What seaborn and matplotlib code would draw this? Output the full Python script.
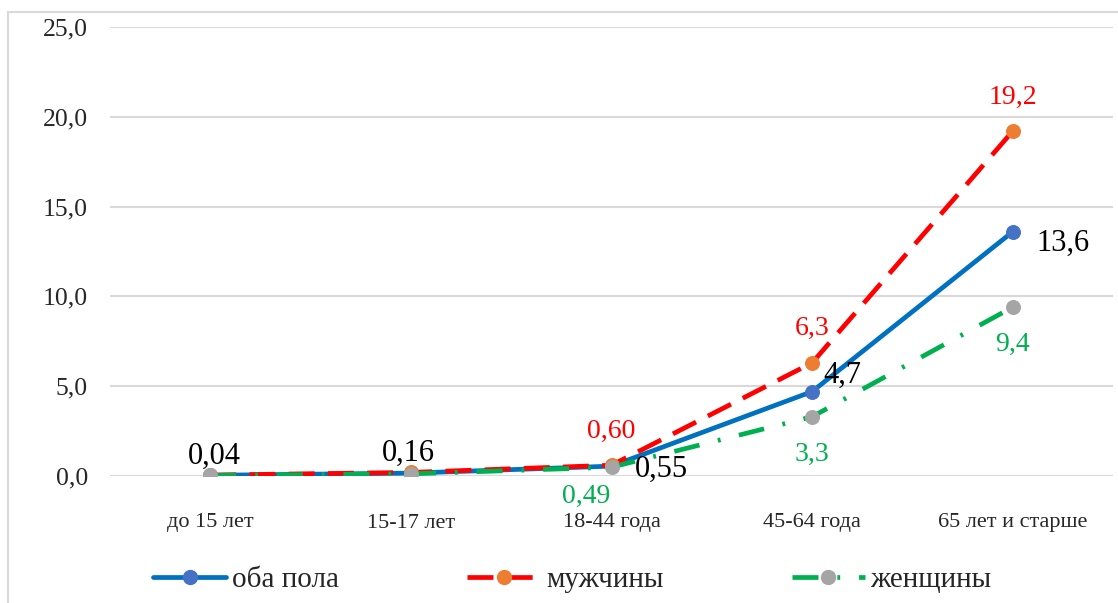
import numpy as np
import pandas as pd
import matplotlib.pyplot as plt
import seaborn as sns
from matplotlib.lines import Line2D
from matplotlib.patches import Rectangle

categories = ['до 15 лет', '15-17 лет', '18-44 года', '45-64 года', '65 лет и старше']
both = [0.04, 0.16, 0.55, 4.7, 13.6]
men = [0.05, 0.20, 0.60, 6.3, 19.2]
women = [0.03, 0.12, 0.49, 3.3, 9.4]
yticks = [0, 5, 10, 15, 20, 25]

both_labels = ['0,04', '0,16', '0,55', '4,7', '13,6']
men_labels = [None, None, '0,60', '6,3', '19,2']
women_labels = [None, None, '0,49', '3,3', '9,4']

df = pd.DataFrame({'cat': categories, 'both': both, 'men': men, 'women': women})
df['x'] = range(len(categories))

sns.set_style('white')
plt.rcParams['font.family'] = ['Liberation Serif', 'DejaVu Serif']

fig = plt.figure(figsize=(11.18, 6.03), dpi=100)
ax = fig.add_axes([110 / 1118, 1 - 476 / 603, 1003 / 1118, 449 / 603])

# frame around the chart
fig.patches.append(Rectangle((8 / 1118, -0.1), 1.2, 1 - 12 / 603 + 0.1,
                             transform=fig.transFigure, fill=False,
                             edgecolor='#d9d9d9', linewidth=1.5))

series = [
    ('both', '#0070C0', '#4472C4', '-', 'оба пола'),
    ('men', '#FF0000', '#ED7D31', (0, (5.5, 2.8)), 'мужчины'),
    ('women', '#00B050', '#A5A5A5', (0, (5.5, 4, 0.6, 4)), 'женщины'),
]
for col, lc, mc, ls, lab in series:
    sns.lineplot(data=df, x='x', y=col, ax=ax, color=lc, linewidth=3.4,
                 linestyle=ls, marker='o', markersize=10, markerfacecolor=mc,
                 markeredgecolor=mc, legend=False)

ax.set_xlim(-0.5, 4.5)
ax.set_ylim(0, 25)
ax.set_yticks(yticks)
ax.set_yticklabels([f'{v:.1f}'.replace('.', ',') for v in yticks], fontsize=18.5)
ax.set_xticks(df['x'])
ax.set_xticklabels(categories, fontsize=16)
ax.tick_params(axis='y', length=0, pad=16)
ax.tick_params(axis='x', length=0, pad=27)
ax.set_xlabel('')
ax.set_ylabel('')
ax.grid(axis='y', color='#d9d9d9', linewidth=1.5)
ax.set_axisbelow(True)
for s in ax.spines.values():
    s.set_visible(False)

# data labels (offsets in points)
both_off = [(3, 14), (-2, 14), (36, -2), (22, 12), (36, -8)]
for i, t in enumerate(both_labels):
    ax.annotate(t, (i, both[i]), xytext=both_off[i], textcoords='offset points',
                ha='center', va='center', fontsize=22, color='black')
men_off = [None, None, (0, 24), (0, 25), (0, 24)]
for i, t in enumerate(men_labels):
    if t:
        ax.annotate(t, (i, men[i]), xytext=men_off[i], textcoords='offset points',
                    ha='center', va='center', fontsize=20, color='#FF0000')
women_off = [None, None, (-18, -21), (0, -27), (0, -27)]
for i, t in enumerate(women_labels):
    if t:
        ax.annotate(t, (i, women[i]), xytext=women_off[i], textcoords='offset points',
                    ha='center', va='center', fontsize=20, color='#00B050')

handles = [Line2D([], [], color=lc, linewidth=3.4, linestyle=ls, marker='o',
                  markersize=10, markerfacecolor=mc, markeredgecolor=mc)
           for _, lc, mc, ls, _ in series]
fig.legend(handles, [s[4] for s in series], loc='center', ncol=3,
           bbox_to_anchor=(0.512, 1 - 580 / 603), frameon=False, fontsize=21,
           handlelength=2.5, handletextpad=0.2, columnspacing=4.4)

fig.savefig('out.png', dpi=100)
